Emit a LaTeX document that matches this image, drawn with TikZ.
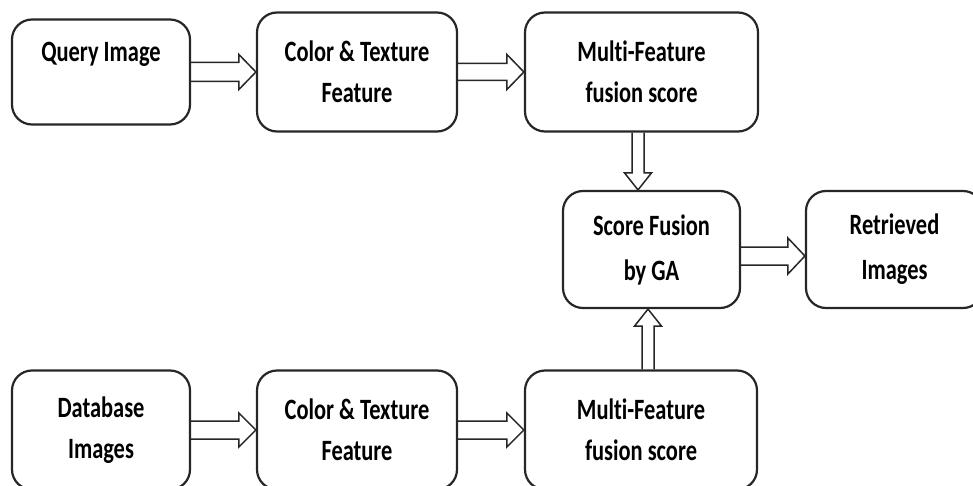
\documentclass[tikz,border=0pt]{standalone}
\usepackage{fontspec}
\setmainfont{Carlito}[FakeStretch=0.76, Ligatures=NoCommon]
\usetikzlibrary{calc}

\newcommand{\fatarrow}[4]{%
  \draw[fat] let \p1=(#1), \p2=(#2), \n1={atan2(\y2-\y1,\x2-\x1)}, \n2={veclen(\x2-\x1,\y2-\y1)} in
    [shift={(\p1)}, rotate=\n1]
    (0pt,-#3) -- ({\n2*1pt-8.5pt},-#3) -- ({\n2*1pt-8.5pt},-#4) -- ({\n2*1pt},0pt)
    -- ({\n2*1pt-8.5pt},#4) -- ({\n2*1pt-8.5pt},#3) -- (0pt,#3);}

\begin{document}
\begin{tikzpicture}[
    x=0.5pt, y=-0.5pt,
    box/.style={rectangle, draw=black!85, line width=1.1pt, rounded corners=10pt, align=center,
      font=\bfseries\fontsize{14.75}{20.5}\selectfont},
    tall/.style={font=\bfseries\fontsize{14.75}{22.5}\selectfont},
    fat/.style={draw=black!85, line width=0.75pt, line join=miter}
  ]
    \useasboundingbox (0,0) rectangle (973,486);
    \clip (0,0) rectangle (973,486);

    \node[box, minimum width=89pt, minimum height=52.5pt] (query) at (101,72) {Query Image\\\mbox{}};
    \node[box, minimum width=100pt, minimum height=59.5pt] (colorq) at (357,72) {Color \& Texture\\Feature};
    \node[box, minimum width=116.5pt, minimum height=59.5pt] (multiq) at (641.5,72) {Multi-Feature\\fusion score};
    \node[box, tall, minimum width=88.5pt, minimum height=58.5pt] (score) at (651.5,249.5) {Score Fusion\\by GA};
    \node[box, tall, minimum width=88.5pt, minimum height=58.5pt] (retr) at (894.5,249.5) {Retrieved\\Images};
    \node[box, minimum width=89pt, minimum height=59.5pt] (db) at (101,430) {Database\\Images};
    \node[box, minimum width=100pt, minimum height=59.5pt] (colordb) at (357,430) {Color \& Texture\\Feature};
    \node[box, minimum width=116pt, minimum height=59.5pt] (multidb) at (641,430) {Multi-Feature\\fusion score};

    \coordinate (dn) at ([xshift=-1.75pt]multiq.south);
    \coordinate (up) at ([xshift=3.5pt]multidb.north);

    \fatarrow{query.east}{colorq.west}{4.75pt}{8.75pt}
    \fatarrow{colorq.east}{multiq.west}{4.25pt}{8.75pt}
    \fatarrow{dn}{dn |- score.north}{3pt}{6.75pt}
    \fatarrow{[yshift=-3.25pt]score.east}{[yshift=-3.25pt]retr.west}{4.5pt}{9pt}
    \fatarrow{db.east}{colordb.west}{4.5pt}{8.5pt}
    \fatarrow{colordb.east}{multidb.west}{4.5pt}{8.5pt}
    \fatarrow{up}{up |- score.south}{3pt}{6.75pt}
\end{tikzpicture}
\end{document}
